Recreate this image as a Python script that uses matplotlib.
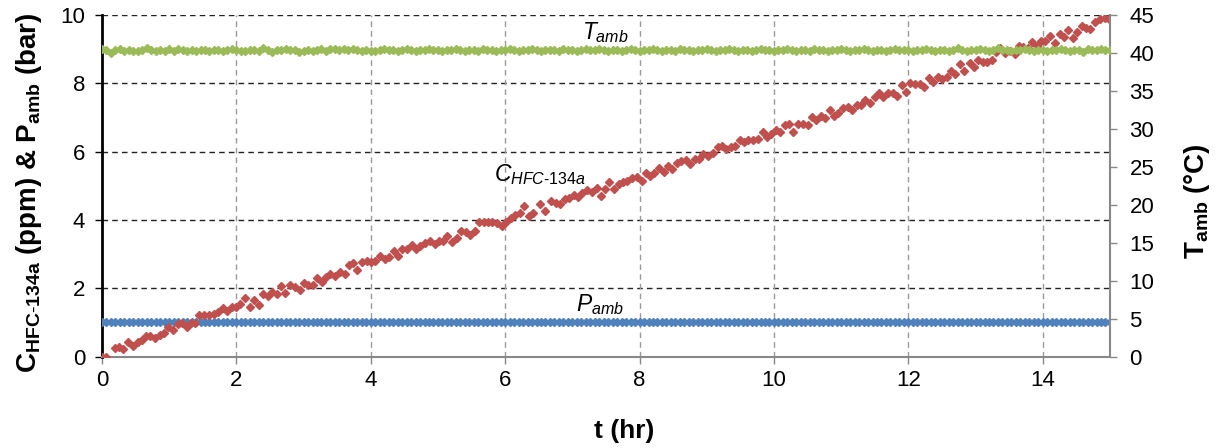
import matplotlib
matplotlib.use("Agg")
import matplotlib.pyplot as plt

plt.rcParams['font.family'] = ['Liberation Sans', 'DejaVu Sans']
plt.rcParams['mathtext.fontset'] = 'custom'
plt.rcParams['mathtext.rm'] = 'Liberation Sans'
plt.rcParams['mathtext.it'] = 'Liberation Sans:italic'
plt.rcParams['mathtext.bf'] = 'Liberation Sans:bold'

# ---- data ----
# HFC-134a concentration (ppm) vs time (hr)
t_c = [0.00, 0.055, 0.19, 0.26, 0.32, 0.39, 0.46, 0.53, 0.59, 0.66, 0.72, 0.79, 0.86, 0.92, 0.99,
       1.06, 1.13, 1.19, 1.26, 1.32, 1.39, 1.45, 1.52, 1.59, 1.66, 1.73, 1.80, 1.86, 1.93, 1.99, 2.06,
       2.13, 2.20, 2.27, 2.34, 2.40, 2.47, 2.53, 2.60, 2.67, 2.73, 2.80, 2.87, 2.94, 3.00, 3.07, 3.14,
       3.20, 3.27, 3.34, 3.40, 3.47, 3.54, 3.61, 3.67, 3.74, 3.80, 3.87, 3.94, 4.01, 4.07, 4.14,
       4.21, 4.27, 4.34, 4.41, 4.47, 4.54, 4.61, 4.68, 4.74, 4.81, 4.88, 4.95, 5.01, 5.08, 5.14, 5.21,
       5.28, 5.35, 5.41, 5.48, 5.55, 5.61, 5.68, 5.75, 5.81, 5.88, 5.95, 6.02, 6.08, 6.15, 6.22, 6.28,
       6.35, 6.42, 6.52, 6.60, 6.68, 6.75, 6.82, 6.89, 6.95, 7.02, 7.09, 7.15, 7.22, 7.29, 7.36, 7.42,
       7.49, 7.55, 7.62, 7.69, 7.76, 7.82, 7.89, 7.96, 8.03, 8.09, 8.16, 8.22, 8.29, 8.36, 8.43, 8.49,
       8.56, 8.62, 8.69, 8.75, 8.82, 8.89, 8.95, 9.02, 9.09, 9.16, 9.22, 9.29, 9.36, 9.42, 9.49, 9.56,
       9.62, 9.69, 9.76, 9.83, 9.89, 9.96, 10.03, 10.09, 10.16, 10.23, 10.29, 10.36, 10.43, 10.50,
       10.56, 10.63, 10.70, 10.76, 10.83, 10.89, 10.96, 11.03, 11.10, 11.16, 11.23, 11.29, 11.36,
       11.43, 11.50, 11.56, 11.63, 11.70, 11.77, 11.83, 11.90, 11.96, 12.03, 12.10, 12.17, 12.23,
       12.30, 12.37, 12.44, 12.50, 12.57, 12.63, 12.70, 12.77, 12.83, 12.91, 12.97, 13.04, 13.11,
       13.17, 13.24, 13.31, 13.37, 13.44, 13.51, 13.58, 13.64, 13.71, 13.78, 13.84, 13.91, 13.98,
       14.04, 14.11, 14.18, 14.25, 14.31, 14.38, 14.45, 14.51, 14.58, 14.65, 14.71, 14.78, 14.85,
       14.92, 14.98]
c_hfc = [0.00, 0.00, 0.24, 0.29, 0.21, 0.43, 0.31, 0.43, 0.48, 0.60, 0.60, 0.53, 0.64, 0.68, 0.87,
         0.78, 0.94, 0.97, 0.86, 0.99, 0.97, 1.22, 1.22, 1.22, 1.24, 1.31, 1.41, 1.34, 1.46, 1.44, 1.54,
         1.71, 1.44, 1.65, 1.51, 1.84, 1.76, 1.88, 1.84, 2.06, 1.86, 2.09, 2.03, 1.95, 2.14, 2.10, 2.10,
         2.31, 2.19, 2.33, 2.42, 2.36, 2.47, 2.41, 2.69, 2.73, 2.54, 2.77, 2.80, 2.77, 2.80, 2.93,
         2.86, 2.90, 3.09, 2.94, 3.14, 3.15, 3.27, 3.15, 3.23, 3.33, 3.39, 3.29, 3.37, 3.37, 3.52, 3.36,
         3.46, 3.68, 3.64, 3.57, 3.67, 3.94, 3.94, 3.95, 3.93, 3.90, 3.83, 3.94, 4.06, 4.14, 4.19, 4.41,
         4.11, 4.19, 4.46, 4.25, 4.56, 4.49, 4.47, 4.62, 4.65, 4.73, 4.68, 4.78, 4.88, 4.83, 4.94, 4.69,
         4.90, 5.10, 4.90, 5.04, 5.10, 5.15, 5.22, 5.27, 5.14, 5.38, 5.29, 5.38, 5.53, 5.41, 5.59, 5.50,
         5.67, 5.72, 5.75, 5.63, 5.79, 5.79, 5.93, 5.86, 5.97, 6.13, 6.16, 6.07, 6.13, 6.16, 6.34, 6.29,
         6.34, 6.35, 6.38, 6.58, 6.42, 6.52, 6.62, 6.57, 6.79, 6.82, 6.57, 6.80, 6.81, 6.78,
         7.00, 6.93, 7.04, 6.97, 7.22, 7.05, 7.12, 7.27, 7.30, 7.22, 7.36, 7.36, 7.51,
         7.43, 7.59, 7.72, 7.61, 7.71, 7.71, 7.62, 7.95, 7.74, 8.00, 7.98, 7.98, 7.90,
         8.16, 8.05, 8.19, 8.13, 8.19, 8.36, 8.27, 8.56, 8.36, 8.59, 8.47, 8.68, 8.61,
         8.63, 8.69, 8.93, 9.02, 8.88, 8.95, 8.85, 9.08, 9.07, 9.02, 9.22, 9.09, 9.24,
         9.24, 9.38, 9.17, 9.43, 9.36, 9.55, 9.34, 9.51, 9.68, 9.63, 9.58, 9.79, 9.88,
         9.90, 9.88]

# ambient logger samples every 4 minutes (0 ... 15 hr)
t_amb = [i / 15 for i in range(226)]
# ambient pressure (bar): read as flat 1.01 bar
p_amb = [1.01] * 226
# ambient temperature (deg C)
T_amb = [40.48, 40.39, 40.04, 40.39, 40.48, 40.30, 40.39, 40.30, 40.30, 40.39, 40.61, 40.39, 40.30, 40.39, 40.30,
         40.48, 40.30, 40.57, 40.39, 40.30, 40.39, 40.30, 40.39, 40.39, 40.30, 40.39, 40.39, 40.30, 40.39, 40.48,
         40.39, 40.30, 40.30, 40.39, 40.39, 40.30, 40.61, 40.39, 40.17, 40.39, 40.39, 40.48, 40.39, 40.39, 40.17,
         40.30, 40.39, 40.30, 40.39, 40.48, 40.30, 40.57, 40.48, 40.39, 40.48, 40.39, 40.48, 40.39, 40.30, 40.39,
         40.30, 40.30, 40.39, 40.48, 40.39, 40.39, 40.30, 40.39, 40.48, 40.39, 40.30, 40.39, 40.39, 40.48, 40.39,
         40.39, 40.30, 40.39, 40.39, 40.48, 40.39, 40.30, 40.39, 40.39, 40.30, 40.48, 40.39, 40.39, 40.30, 40.39,
         40.39, 40.48, 40.39, 40.30, 40.39, 40.39, 40.48, 40.39, 40.30, 40.39, 40.39, 40.39, 40.30, 40.48, 40.39,
         40.39, 40.30, 40.39, 40.48, 40.39, 40.39, 40.57, 40.39, 40.30, 40.39, 40.39, 40.30, 40.39, 40.48, 40.39,
         40.30, 40.39, 40.39, 40.48, 40.39, 40.30, 40.39, 40.39, 40.30, 40.48, 40.39, 40.39, 40.30, 40.39, 40.39,
         40.48, 40.39, 40.30, 40.39, 40.39, 40.48, 40.39, 40.30, 40.39, 40.39, 40.30, 40.39, 40.48, 40.39, 40.39,
         40.30, 40.39, 40.39, 40.48, 40.39, 40.30, 40.39, 40.39, 40.30, 40.48, 40.39, 40.39, 40.30, 40.39, 40.39,
         40.48, 40.39, 40.30, 40.39, 40.39, 40.48, 40.39, 40.30, 40.39, 40.39, 40.30, 40.39, 40.48, 40.39, 40.39,
         40.39, 40.30, 40.39, 40.39, 40.48, 40.39, 40.30, 40.39, 40.39, 40.30, 40.39, 40.65, 40.39, 40.30, 40.39,
         40.39, 40.48, 40.39, 40.30, 40.39, 40.60, 40.39, 40.39, 40.30, 40.39, 40.39, 40.48, 40.39, 40.30, 40.39,
         40.39, 40.30, 40.39, 40.39, 40.48, 40.39, 40.30, 40.39, 40.39, 40.10, 40.52, 40.39, 40.39, 40.48, 40.45,
         40.45]

x_ticks = [0, 2, 4, 6, 8, 10, 12, 14]
y_left_ticks = [0, 2, 4, 6, 8, 10]
y_right_ticks = [0, 5, 10, 15, 20, 25, 30, 35, 40, 45]

RED = '#C0504D'
BLUE = '#4F81BD'
GREEN = '#9BBB59'

fig = plt.figure(figsize=(12.18, 4.48), dpi=100)
ax = fig.add_axes([0.0837, 0.2042, 0.8276, 0.7623])
ax2 = ax.twinx()

ax.set_xlim(0, 15)
ax.set_ylim(0, 10)
ax2.set_ylim(0, 45)

# grid lines
for yv in y_left_ticks[1:]:
    ax.axhline(yv, color='#222222', lw=1.0, ls=(0, (4, 3)), zorder=1)
for xv in x_ticks[1:]:
    ax.axvline(xv, color='#999999', lw=1.0, ls=(0, (4, 3)), zorder=1)

ax.plot(t_amb, p_amb, ls='none', marker='D', ms=4.0, color=BLUE, mec=BLUE, zorder=3)
ax.plot(t_c, c_hfc, ls='none', marker='D', ms=3.9, color=RED, mec=RED, zorder=4)
ax2.plot(t_amb, T_amb, ls='none', marker='D', ms=4.0, color=GREEN, mec=GREEN, zorder=3)

ax.set_xticks(x_ticks)
ax.set_yticks(y_left_ticks)
ax2.set_yticks(y_right_ticks)

ax.tick_params(axis='both', labelsize=16, direction='out', length=5, width=1)
ax.tick_params(axis='y', colors='black', pad=7)
ax.tick_params(axis='x', color='#888888', pad=5)
ax2.tick_params(axis='y', labelsize=16, direction='out', length=5, width=1,
                color='#888888', labelcolor='black', pad=9)

for a in (ax, ax2):
    a.spines['top'].set_visible(False)
ax.spines['left'].set_color('black')
ax.spines['left'].set_linewidth(2)
ax.spines['bottom'].set_color('#888888')
ax.spines['bottom'].set_linewidth(1.5)
ax2.spines['right'].set_color('#888888')
ax2.spines['right'].set_linewidth(1.5)
ax2.spines['left'].set_visible(False)
ax2.spines['bottom'].set_visible(False)
ax.spines['right'].set_visible(False)

ax.set_xlabel('t (hr)', fontsize=19, fontweight='bold')
ax.xaxis.set_label_coords(0.518, -0.182)
ax.set_ylabel(r'$\mathbf{C_{HFC\text{-}134a}}$ (ppm) & $\mathbf{P_{amb}}$ (bar)',
              fontsize=20, fontweight='bold')
ax.yaxis.set_label_coords(-0.057, 0.48)
ax2.set_ylabel(r'$\mathbf{T_{amb}}$ (°C)', fontsize=20, fontweight='bold')
ax2.yaxis.set_label_coords(1.071, 0.455)

ax.text(7.49, 9.5, r'$\mathit{T_{amb}}$', fontsize=16.5, ha='center', va='center', zorder=5)
ax.text(6.52, 5.34, r'$\mathit{C_{HFC\text{-}134a}}$', fontsize=16.5, ha='center', va='center', zorder=5)
ax.text(7.41, 1.51, r'$\mathit{P_{amb}}$', fontsize=16.5, ha='center', va='center', zorder=5)

fig.savefig('out.png', dpi=100)
